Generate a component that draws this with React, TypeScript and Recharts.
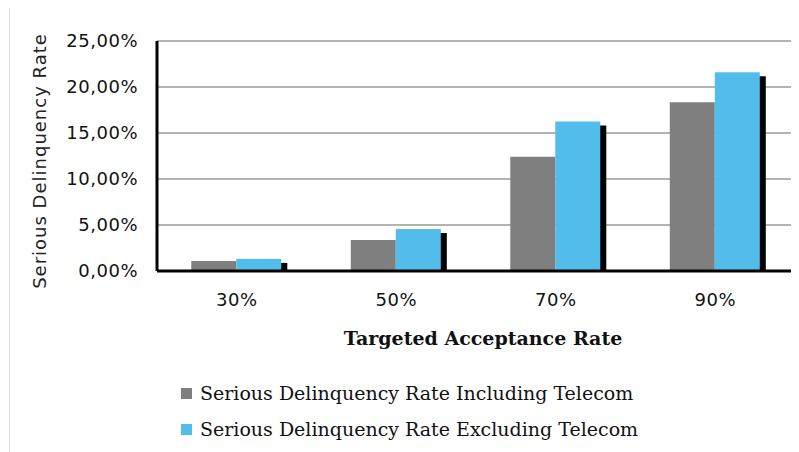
import React from "react";
import {
  BarChart,
  Bar,
  XAxis,
  YAxis,
  CartesianGrid,
  Legend,
  Label,
} from "recharts";

const categories = ["30%", "50%", "70%", "90%"];
const includingTelecom = [1.1, 3.36, 12.43, 18.33];
const excludingTelecom = [1.31, 4.56, 16.25, 21.6];
const yTicks = [0, 5, 10, 15, 20, 25];

const seriesNames = [
  "Serious Delinquency Rate Including Telecom",
  "Serious Delinquency Rate Excluding Telecom",
];

const GRAY = "#7f7f7f";
const BLUE = "#52bcea";

const data = categories.map((c, i) => ({
  name: c,
  incl: includingTelecom[i],
  excl: excludingTelecom[i],
}));

const formatPct = (v: number) => v.toFixed(2).replace(".", ",") + "%";

// blue bar with the hard black drop shadow to the lower right
function ShadowBar(props: any) {
  const { x, y, width, height, fill } = props;
  if (!height || height <= 0) return null;
  return (
    <g>
      <rect x={x + 6} y={y + 4} width={width} height={Math.max(0, height - 4)} fill="#000" />
      <rect x={x} y={y} width={width} height={height} fill={fill} />
    </g>
  );
}

function LegendBox() {
  const colors = [GRAY, BLUE];
  return (
    <div>
      {seriesNames.map((name, i) => (
        <div
          key={name}
          style={{
            display: "flex",
            alignItems: "center",
            height: 36,
            fontFamily: "'DejaVu Serif', serif",
            fontSize: 19,
            color: "#111",
            whiteSpace: "nowrap",
          }}
        >
          <span
            style={{
              display: "inline-block",
              width: 11,
              height: 11,
              background: colors[i],
              marginRight: 8,
            }}
          />
          {name}
        </div>
      ))}
    </div>
  );
}

const tickStyle = {
  fill: "#111",
  fontSize: 18,
  letterSpacing: 0.5,
  fontFamily: "'DejaVu Sans', sans-serif",
};

export default function App() {
  return (
    <div
      style={{
        width: 789,
        height: 444,
        marginLeft: 1,
        marginTop: -1,
        borderTop: "1px solid #d9d9d9",
        borderLeft: "1px solid #d9d9d9",
        background: "#fff",
      }}
    >
      <BarChart
        width={789}
        height={444}
        data={data}
        margin={{ top: 33, right: 4, bottom: 107, left: 0 }}
        barGap={0}
        barCategoryGap="21.5%"
      >
        <CartesianGrid vertical={false} stroke="#b3b3b3" strokeWidth={2} />
        <XAxis
          dataKey="name"
          axisLine={{ stroke: "#000", strokeWidth: 3 }}
          tickLine={false}
          tickSize={0}
          tickMargin={22}
          height={74}
          tick={tickStyle}
        >
          <Label
            value="Targeted Acceptance Rate"
            position="insideBottom"
            offset={0}
            dx={7}
            style={{
              fill: "#111",
              fontSize: 19,
              fontWeight: "bold",
              fontFamily: "'DejaVu Serif', serif",
            }}
          />
        </XAxis>
        <YAxis
          width={147}
          domain={[0, 25]}
          ticks={yTicks}
          tickFormatter={formatPct}
          axisLine={{ stroke: "#000", strokeWidth: 3 }}
          tickLine={false}
          tickSize={0}
          tickMargin={19}
          tick={tickStyle}
        >
          <Label
            value="Serious Delinquency Rate"
            angle={-90}
            position="insideLeft"
            offset={30}
            dy={5}
            style={{
              textAnchor: "middle",
              fill: "#222",
              fontSize: 18,
              letterSpacing: 1,
              fontFamily: "'DejaVu Sans', sans-serif",
            }}
          />
        </YAxis>
        <Bar dataKey="incl" name={seriesNames[0]} fill={GRAY} isAnimationActive={false} />
        <Bar
          dataKey="excl"
          name={seriesNames[1]}
          fill={BLUE}
          shape={<ShadowBar />}
          isAnimationActive={false}
        />
        <Legend
          layout="vertical"
          align="center"
          verticalAlign="middle"
          content={<LegendBox />}
          wrapperStyle={{ left: 171, top: 367, width: "auto" }}
        />
      </BarChart>
    </div>
  );
}
